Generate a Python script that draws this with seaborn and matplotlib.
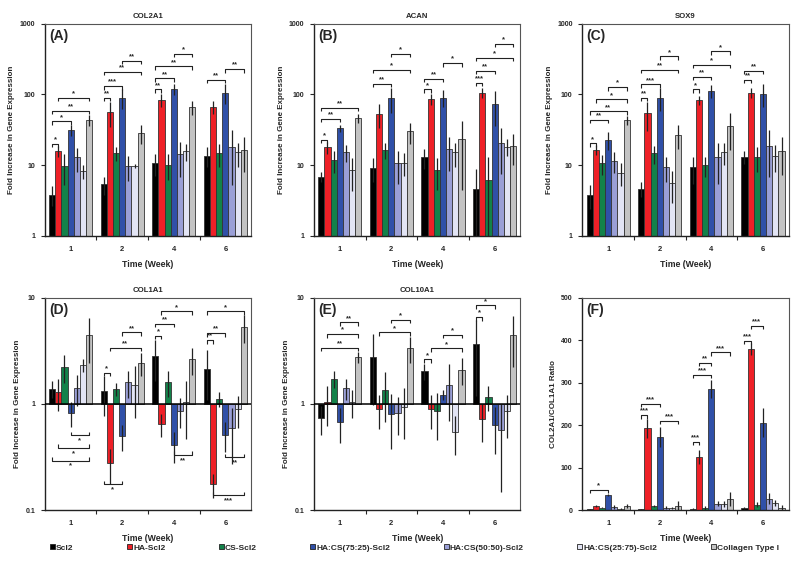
import numpy as np
import pandas as pd
import matplotlib
matplotlib.use("Agg")
import matplotlib.pyplot as plt
from matplotlib.patches import Patch
from matplotlib.ticker import NullLocator
import seaborn as sns

# --- data ---
WEEKS = ["1", "2", "4", "6"]
GROUPS = ["Scl2", "HA-Scl2", "CS-Scl2", "HA:CS(75:25)-Scl2",
          "HA:CS(50:50)-Scl2", "HA:CS(25:75)-Scl2", "Collagen Type I"]
COLORS = ["#000000", "#ee2027", "#13824a", "#3050a8", "#9a9fd6", "#e2e4f4", "#c3c3c3"]

# rows = weeks, columns = groups
COL2A1_MEAN = [[3.85, 15.8, 9.7, 31.6, 12.9, 8.3, 43.5],
               [5.35, 56.0, 14.7, 89.6, 9.8, 9.8, 28.3],
               [10.6, 83.0, 10.2, 118.0, 14.2, 15.8, 66.7],
               [13.6, 66.7, 14.7, 106.0, 18.3, 15.2, 16.4]]
COL2A1_ERR = [[1.2, 2.9, 4.5, 5.4, 4.8, 1.9, 7.2],
              [1.5, 21.0, 3.4, 28.0, 3.8, 0.6, 8.2],
              [3.6, 17.0, 4.0, 20.0, 7.3, 4.2, 15.0],
              [4.3, 14.0, 5.3, 32.0, 13.0, 5.7, 8.4]]

ACAN_MEAN = [[6.8, 17.9, 11.8, 33.4, 15.2, 8.5, 46.4],
             [9.2, 53.5, 16.4, 87.7, 10.6, 10.9, 30.0],
             [12.9, 85.0, 8.5, 89.6, 16.9, 15.2, 23.5],
             [4.6, 106.0, 6.1, 74.0, 20.4, 18.3, 18.9]]
ACAN_ERR = [[1.1, 3.6, 4.0, 3.6, 4.1, 4.2, 6.6],
            [3.5, 20.0, 4.0, 34.0, 5.2, 3.8, 10.0],
            [4.0, 15.0, 4.0, 24.0, 8.5, 5.7, 19.0],
            [4.3, 16.0, 7.1, 38.0, 13.0, 5.0, 8.8]]

SOX9_MEAN = [[3.85, 16.4, 10.6, 22.8, 11.5, 7.8, 43.5],
             [4.6, 54.7, 14.7, 89.6, 9.3, 5.6, 26.8],
             [9.3, 83.0, 9.9, 111.7, 12.9, 15.2, 35.3],
             [13.2, 106.0, 12.9, 102.0, 18.9, 13.6, 16.0]]
SOX9_ERR = [[1.45, 2.6, 3.3, 6.2, 3.7, 2.8, 6.5],
            [1.1, 24.0, 4.2, 32.0, 3.6, 2.7, 10.0],
            [3.8, 13.0, 3.2, 24.0, 7.5, 5.2, 19.0],
            [2.8, 16.0, 5.0, 36.0, 12.0, 5.7, 8.8]]

COL1A1_MEAN = [[1.38, 1.29, 2.22, 0.83, 1.41, 2.32, 4.44],
               [1.31, 0.278, 1.38, 0.50, 1.60, 1.50, 2.44],
               [2.82, 0.65, 1.61, 0.41, 0.86, 1.05, 2.62],
               [2.15, 0.175, 1.11, 0.51, 0.59, 0.90, 5.26]]
COL1A1_ERR = [[0.25, 0.44, 0.65, 0.22, 0.45, 0.34, 2.0],
              [0.54, 0.10, 0.19, 0.14, 0.46, 0.77, 0.60],
              [1.16, 0.16, 0.45, 0.13, 0.27, 0.58, 0.76],
              [1.07, 0.044, 0.18, 0.16, 0.32, 0.30, 1.54]]

COL10A1_MEAN = [[0.73, 1.04, 1.72, 0.67, 1.41, 1.05, 2.76],
                [2.76, 0.90, 1.34, 0.81, 0.83, 0.94, 3.34],
                [2.03, 0.90, 0.86, 1.22, 1.52, 0.55, 2.10],
                [3.65, 0.72, 1.16, 0.64, 0.57, 0.85, 4.44]]
COL10A1_ERR = [[0.22, 0.42, 0.31, 0.24, 0.32, 0.31, 0.34],
               [1.78, 0.32, 0.66, 0.43, 0.32, 0.47, 0.93],
               [0.36, 0.32, 0.40, 0.14, 0.83, 0.22, 0.58],
               [2.45, 0.28, 0.30, 0.30, 0.42, 0.37, 2.2]]

RATIO_MEAN = [[2.0, 10.3, 6.3, 36.5, 8.0, 3.0, 10.3],
              [2.4, 192.5, 10.3, 172.7, 6.3, 4.8, 10.3],
              [2.4, 125.0, 5.5, 286.0, 15.8, 14.3, 26.0],
              [4.8, 379.0, 12.7, 206.0, 27.7, 16.6, 5.5]]
RATIO_ERR = [[1.0, 1.5, 1.5, 3.0, 4.0, 2.0, 5.5],
             [1.0, 23.0, 2.5, 24.0, 3.0, 2.0, 12.0],
             [2.0, 16.0, 4.0, 21.0, 6.0, 7.0, 16.0],
             [2.5, 14.0, 6.0, 34.0, 14.0, 7.0, 6.5]]

# significance brackets: (week index, group i, group j, level, stars, below baseline)
COL2A1_SIG = [(0, 0, 1, 20, "*", False), (0, 0, 3, 41.6, "*", False), (0, 0, 6, 59, "**", False),
              (0, 1, 6, 89.6, "*", False), (1, 0, 1, 89.6, "**", False), (1, 0, 3, 131, "***", False),
              (1, 0, 6, 208, "**", False), (1, 3, 6, 299, "**", False), (2, 0, 1, 118, "**", False),
              (2, 0, 3, 169, "**", False), (2, 0, 6, 248, "**", False), (2, 3, 6, 373, "*", False),
              (3, 0, 3, 160, "**", False), (3, 3, 6, 228, "**", False)]
ACAN_SIG = [(0, 0, 1, 22.8, "*", False), (0, 0, 3, 45, "**", False), (0, 0, 6, 64.5, "**", False),
            (1, 0, 3, 142, "**", False), (1, 0, 6, 223, "*", False), (1, 3, 6, 373, "*", False),
            (2, 0, 1, 118, "*", False), (2, 0, 3, 167, "**", False), (2, 3, 6, 277, "*", False),
            (3, 0, 1, 147, "***", False), (3, 0, 3, 215, "**", False), (3, 0, 6, 327, "*", False),
            (3, 3, 6, 518, "*", False)]
SOX9_SIG = [(0, 0, 1, 20.4, "*", False), (0, 0, 3, 44, "**", False), (0, 0, 6, 57.8, "**", False),
            (0, 1, 6, 85, "*", False), (0, 3, 6, 127, "*", False), (1, 0, 1, 89.6, "**", False),
            (1, 0, 3, 139, "***", False), (1, 0, 6, 223, "**", False), (1, 3, 6, 345, "*", False),
            (2, 0, 1, 118, "*", False), (2, 0, 3, 177, "**", False), (2, 0, 6, 262, "*", False),
            (2, 3, 6, 407, "*", False), (3, 0, 1, 160, "**", False), (3, 0, 3, 215, "**", False)]
COL1A1_SIG = [(1, 0, 1, 1.96, "*", False), (1, 1, 6, 3.39, "**", False), (1, 3, 6, 4.71, "**", False),
              (2, 0, 1, 4.38, "*", False), (2, 0, 3, 5.65, "**", False), (2, 1, 6, 7.41, "*", False),
              (3, 0, 1, 3.98, "**", False), (3, 0, 3, 4.64, "**", False), (3, 0, 6, 7.41, "*", False),
              (0, 3, 6, 0.507, "*", True), (0, 1, 6, 0.386, "*", True), (0, 0, 6, 0.293, "*", True),
              (1, 0, 3, 0.175, "*", True), (2, 3, 6, 0.332, "**", True), (3, 3, 6, 0.315, "**", True),
              (3, 1, 6, 0.138, "***", True)]
COL10A1_SIG = [(0, 0, 6, 3.39, "**", False), (0, 1, 6, 4.54, "*", False), (0, 3, 6, 5.87, "**", False),
               (1, 1, 6, 4.71, "*", False), (1, 3, 6, 6.17, "*", False), (2, 0, 1, 2.62, "*", False),
               (2, 1, 6, 3.34, "*", False), (2, 3, 6, 4.48, "*", False), (3, 0, 1, 6.55, "*", False),
               (3, 0, 3, 8.45, "*", False)]
RATIO_SIG = [(0, 0, 3, 48, "*", False), (1, 0, 1, 224, "***", False), (1, 0, 3, 250, "***", False),
             (1, 3, 6, 211, "***", False), (2, 0, 1, 161, "***", False), (2, 0, 3, 319, "***", False),
             (2, 1, 3, 347, "**", False), (2, 3, 6, 371, "***", False), (3, 0, 1, 399, "***", False),
             (3, 1, 3, 434, "***", False)]

FS_TICK = 5.5
FS_LABEL = 5.8


def bracket(ax, x1, x2, y, label, below=False):
    d = 3.5 if not below else -3.5
    p1 = ax.transData.transform((x1, y))
    p2 = ax.transData.transform((x2, y))
    pts = np.array([(p1[0], p1[1] - d), p1, p2, (p2[0], p2[1] - d)])
    pts = ax.transData.inverted().transform(pts)
    ax.plot(pts[:, 0], pts[:, 1], color="#222222", lw=0.8, solid_capstyle="butt")
    ax.annotate(label, ((x1 + x2) / 2, y), xytext=(0, -1.5 if below else 0.3),
                textcoords="offset points", ha="center",
                va="top" if below else "bottom", fontsize=5.5, fontweight="bold")


def draw_panel(ax, mean, err, sig, title, letter, ylabel, log=True, base=1.0,
               ylim=(1, 1000), yticks=(1, 10, 100, 1000), ylabels=None, baseline=False):
    mean = np.asarray(mean, dtype=float)
    err = np.asarray(err, dtype=float)
    rows = []
    for wi, w in enumerate(WEEKS):
        for gi, g in enumerate(GROUPS):
            rows.append({"week": w, "group": g, "height": mean[wi, gi] - base})
    df = pd.DataFrame(rows)

    sns.barplot(data=df, x="week", y="height", hue="group", order=WEEKS, hue_order=GROUPS,
                palette=COLORS, saturation=1, width=0.84, errorbar=None, bottom=base,
                edgecolor="#333333", linewidth=0.6, legend=False, ax=ax)

    if log:
        ax.set_yscale("log")
    ax.set_ylim(*ylim)
    ax.set_xlim(-0.5, 3.5)

    # bar centres from the seaborn containers
    centers = np.zeros_like(mean)
    for gi, cont in enumerate(ax.containers):
        for wi, p in enumerate(cont.patches):
            centers[wi, gi] = p.get_x() + p.get_width() / 2

    lower = np.minimum(err, mean * 0.97) if log else np.minimum(err, mean)
    ax.errorbar(centers.ravel(), mean.ravel(), yerr=[lower.ravel(), err.ravel()],
                fmt="none", ecolor="#222222", elinewidth=0.9, capsize=0, zorder=3)

    if baseline:
        ax.axhline(1, color="black", lw=1.1, zorder=4)

    # axes cosmetics
    ax.set_yticks(list(yticks))
    ax.set_yticklabels(ylabels if ylabels else [str(t) for t in yticks])
    ax.yaxis.set_minor_locator(NullLocator())
    ax.tick_params(axis="y", length=3, width=0.8, pad=4, labelsize=5)
    ax.set_xticks([0.5, 1.5, 2.5])
    ax.set_xticklabels([])
    ax.set_xticks([0, 1, 2, 3], minor=True)
    ax.set_xticklabels(WEEKS, minor=True)
    ax.tick_params(axis="x", which="major", length=3, width=0.8)
    ax.tick_params(axis="x", which="minor", length=0, pad=7, labelsize=FS_TICK)
    ax.set_xlabel("Time (Week)", fontsize=6.3, fontweight="bold", labelpad=5)
    ax.set_ylabel(ylabel, fontsize=FS_LABEL, fontweight="bold", labelpad=3)
    ax.set_title(title, fontsize=5.6, fontweight="bold", pad=4)
    ax.text(0.02, 0.975, letter, transform=ax.transAxes, fontsize=10,
            fontweight="bold", va="top", ha="left")
    for side in ["top", "right"]:
        ax.spines[side].set_color("#555555")
        ax.spines[side].set_linewidth(0.8)
    for side in ["left", "bottom"]:
        ax.spines[side].set_color("#222222")
        ax.spines[side].set_linewidth(1.0)

    for wi, i, j, y, label, below in sig:
        bracket(ax, centers[wi, i], centers[wi, j], y, label, below)


def main():
    sns.set_style("ticks")
    plt.rcParams["font.family"] = ["Liberation Sans", "DejaVu Sans"]
    plt.rcParams["font.weight"] = "bold"

    fig = plt.figure(figsize=(8, 5.75), dpi=100)
    w = 0.258
    top_b, top_h = 0.5896, 0.3694
    bot_b, bot_h = 0.1125, 0.370
    ax_a = fig.add_axes([0.056, top_b, w, top_h])
    ax_b = fig.add_axes([0.3925, top_b, w, top_h])
    ax_c = fig.add_axes([0.728, top_b, w, top_h])
    ax_d = fig.add_axes([0.056, bot_b, w, bot_h])
    ax_e = fig.add_axes([0.3925, bot_b, w, bot_h])
    ax_f = fig.add_axes([0.728, bot_b, w, bot_h])

    ylab = "Fold Increase in Gene Expression"
    draw_panel(ax_a, COL2A1_MEAN, COL2A1_ERR, COL2A1_SIG, "COL2A1", "(A)", ylab)
    draw_panel(ax_b, ACAN_MEAN, ACAN_ERR, ACAN_SIG, "ACAN", "(B)", ylab)
    draw_panel(ax_c, SOX9_MEAN, SOX9_ERR, SOX9_SIG, "SOX9", "(C)", ylab)
    draw_panel(ax_d, COL1A1_MEAN, COL1A1_ERR, COL1A1_SIG, "COL1A1", "(D)", ylab,
               ylim=(0.1, 10), yticks=(0.1, 1, 10), ylabels=["0.1", "1", "10"], baseline=True)
    draw_panel(ax_e, COL10A1_MEAN, COL10A1_ERR, COL10A1_SIG, "COL10A1", "(E)", ylab,
               ylim=(0.1, 10), yticks=(0.1, 1, 10), ylabels=["0.1", "1", "10"], baseline=True)
    draw_panel(ax_f, RATIO_MEAN, RATIO_ERR, RATIO_SIG, "", "(F)", "COL2A1/COL1A1 Ratio",
               log=False, base=0.0, ylim=(0, 500), yticks=(0, 100, 200, 300, 400, 500))

    handles = [Patch(facecolor=c, edgecolor="#222222", linewidth=0.6) for c in COLORS]
    fig.legend(handles, GROUPS, loc="center", bbox_to_anchor=(0.518, 0.047), ncol=7,
               frameon=False, fontsize=6, columnspacing=6.4, handlelength=0.6,
               handleheight=0.6, handletextpad=0.15)

    fig.savefig("out.png", dpi=100)


if __name__ == "__main__":
    main()
